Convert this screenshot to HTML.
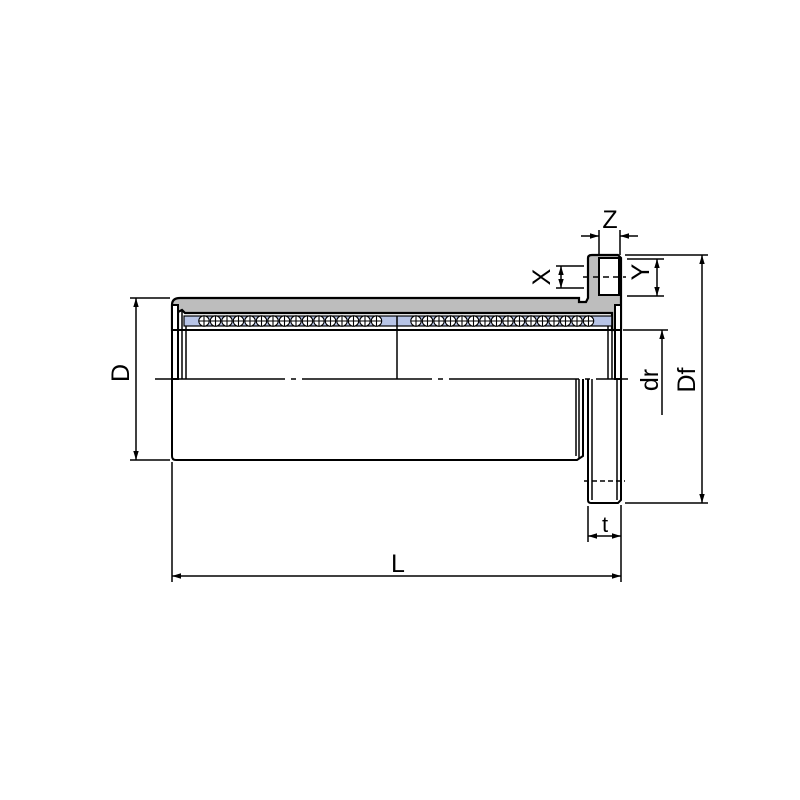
<!DOCTYPE html>
<html><head><style>html,body{margin:0;padding:0;background:#fff}svg{display:block}</style></head>
<body>
<svg width="800" height="800" viewBox="0 0 800 800" xmlns="http://www.w3.org/2000/svg" font-family="Liberation Sans, sans-serif">
<defs>
<marker id="a" viewBox="0 0 10 10" refX="10" refY="5" markerWidth="6" markerHeight="6" orient="auto-start-reverse"><path d="M0,2 L10,5 L0,8z" fill="#000"/></marker>
<g id="ball"><circle r="5.2"/><path d="M-5,0H5M0,-5V5"/></g>
</defs>
<g stroke="#000" fill="none" stroke-width="1.5">
<path d="M172,305 Q172,298 180,298 L579,298 L579,302 L586,302 L588,298 L588,258 Q588,255 592,255 L618,255 L621,258 L621,330 L612,330 L612,313 L185,313 L182,310 L178,312 L178,330 L172,330 Z" fill="#bdbdbd" stroke-width="2.2"/>
<rect x="599" y="258" width="20" height="37" fill="#fff" stroke-width="2"/>
<rect x="184" y="316" width="428" height="10" fill="#b7c4e6" stroke-width="1.2"/>
<rect x="172" y="305" width="6" height="74" fill="#fff" stroke-width="2"/>
<rect x="615" y="305" width="6" height="74" fill="#fff" stroke-width="2"/>
<line x1="182" y1="310" x2="182" y2="379"/><line x1="186" y1="326" x2="186" y2="379"/>
<line x1="608" y1="326" x2="608" y2="379"/><line x1="612" y1="312" x2="612" y2="379"/>
<line x1="172" y1="330" x2="620" y2="330" stroke-width="2"/>
<line x1="397" y1="316" x2="397" y2="379"/>
<line x1="155" y1="379" x2="628" y2="379" stroke-dasharray="130,6,5,6"/>
<path d="M172,379 L172,456 Q172,460 176,460 L577,460 L583,456 L583,379" stroke-width="2"/>
<line x1="576" y1="379" x2="576" y2="456"/>
<line x1="579" y1="379" x2="579" y2="458"/>
<path d="M588,379 L588,500 Q588,503 591,503 L618,503 L621,500 L621,379" stroke-width="2"/>
<line x1="592" y1="379" x2="592" y2="500"/><line x1="617" y1="379" x2="617" y2="500"/>
<line x1="584" y1="481" x2="625" y2="481" stroke-dasharray="5,3"/>
<line x1="130" y1="298" x2="170" y2="298"/><line x1="130" y1="460" x2="170" y2="460"/>
<line x1="136" y1="298" x2="136" y2="460" marker-start="url(#a)" marker-end="url(#a)"/>
<line x1="172" y1="462" x2="172" y2="582"/><line x1="621" y1="505" x2="621" y2="582"/>
<line x1="172" y1="576" x2="621" y2="576" marker-start="url(#a)" marker-end="url(#a)"/>
<line x1="588" y1="506" x2="588" y2="542"/>
<line x1="588" y1="536" x2="621" y2="536" marker-start="url(#a)" marker-end="url(#a)"/>
<line x1="625" y1="255" x2="708" y2="255"/><line x1="625" y1="503" x2="708" y2="503"/>
<line x1="702" y1="255" x2="702" y2="503" marker-start="url(#a)" marker-end="url(#a)"/>
<line x1="623" y1="330" x2="668" y2="330"/>
<line x1="662" y1="330" x2="662" y2="415" marker-start="url(#a)"/>
<line x1="627" y1="259" x2="664" y2="259"/><line x1="627" y1="296" x2="664" y2="296"/>
<line x1="657" y1="259" x2="657" y2="296" marker-start="url(#a)" marker-end="url(#a)"/>
<line x1="556" y1="266" x2="584" y2="266"/><line x1="556" y1="288" x2="584" y2="288"/>
<line x1="561" y1="266" x2="561" y2="288" marker-start="url(#a)" marker-end="url(#a)"/>
<line x1="583" y1="277" x2="626" y2="277" stroke-dasharray="6,4"/>
<line x1="599" y1="230" x2="599" y2="255"/><line x1="620" y1="230" x2="620" y2="255"/>
<line x1="581" y1="236" x2="599" y2="236" marker-end="url(#a)"/>
<line x1="638" y1="236" x2="620" y2="236" marker-end="url(#a)"/>
</g>
<g fill="#fff" stroke="#000" stroke-width="1.1">
<g id="b1">
<use href="#ball" x="204" y="321"/><use href="#ball" x="215.5" y="321"/><use href="#ball" x="227" y="321"/><use href="#ball" x="238.5" y="321"/><use href="#ball" x="250" y="321"/><use href="#ball" x="261.5" y="321"/><use href="#ball" x="273" y="321"/><use href="#ball" x="284.5" y="321"/><use href="#ball" x="296" y="321"/><use href="#ball" x="307.5" y="321"/><use href="#ball" x="319" y="321"/><use href="#ball" x="330.5" y="321"/><use href="#ball" x="342" y="321"/><use href="#ball" x="353.5" y="321"/><use href="#ball" x="365" y="321"/><use href="#ball" x="376.5" y="321"/>
</g>
<use href="#b1" x="212"/>
</g>
<g font-size="25" fill="#000">
<text x="398" y="572" text-anchor="middle">L</text>
<text x="605" y="532" text-anchor="middle" font-size="22">t</text>
<text x="610" y="228" text-anchor="middle">Z</text>
<text transform="translate(129,373) rotate(-90)" text-anchor="middle">D</text>
<text transform="translate(658,380) rotate(-90)" text-anchor="middle">dr</text>
<text transform="translate(695,380) rotate(-90)" text-anchor="middle">Df</text>
<text transform="translate(649,272) rotate(-90)" text-anchor="middle">Y</text>
<text transform="translate(550,277) rotate(-90)" text-anchor="middle">X</text>
</g>
</svg>
</body></html>
